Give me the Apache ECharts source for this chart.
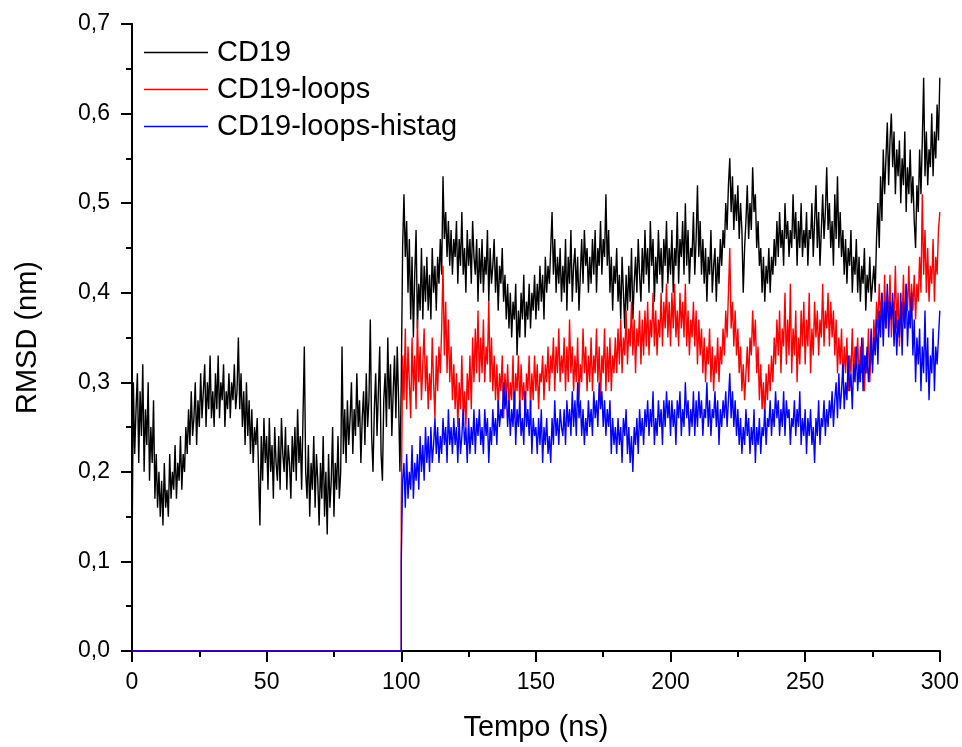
<!DOCTYPE html>
<html>
<head>
<meta charset="utf-8">
<script src="https://cdn.jsdelivr.net/npm/echarts@6/dist/echarts.min.js"></script>
<style>
  html, body { margin: 0; padding: 0; background: #fff; }
  #chart { width: 962px; height: 747px; }
</style>
</head>
<body>
<div id="chart"></div>
<script>
// tempo (ns): passo de 0,5 ns
var inicioCD19 = 0;
var inicioLoops = 100;
var passo = 0.5;

// trecho em zero das duas simulações com loops (0 a 100 ns)
var zeroTempo = [0, 100];
var zeroValor = [0, 0];

var nomes = ["CD19", "CD19-loops", "CD19-loops-histag"];

// RMSD (nm), CD19, t = 0..300 (uma linha = 10 ns)
var rmsdCD19 = [
  0.10, 0.30, 0.22, 0.27, 0.31, 0.21, 0.29, 0.24, 0.32, 0.20, 0.27, 0.23, 0.30, 0.19, 0.25, 0.21, 0.28, 0.17, 0.22, 0.16,
  0.20, 0.15, 0.19, 0.14, 0.21, 0.16, 0.18, 0.15, 0.22, 0.17, 0.20, 0.18, 0.23, 0.17, 0.21, 0.19, 0.24, 0.18, 0.22, 0.20,
  0.25, 0.22, 0.27, 0.23, 0.29, 0.24, 0.26, 0.30, 0.23, 0.28, 0.25, 0.31, 0.26, 0.29, 0.32, 0.25, 0.30, 0.27, 0.33, 0.26,
  0.29, 0.25, 0.31, 0.27, 0.33, 0.26, 0.30, 0.28, 0.32, 0.25, 0.29, 0.27, 0.31, 0.26, 0.30, 0.28, 0.32, 0.27, 0.29, 0.35,
  0.27, 0.31, 0.25, 0.29, 0.23, 0.30, 0.24, 0.28, 0.22, 0.27, 0.21, 0.25, 0.23, 0.26, 0.20, 0.14, 0.24, 0.19, 0.26, 0.21,
  0.24, 0.18, 0.26, 0.20, 0.23, 0.17, 0.25, 0.21, 0.19, 0.24, 0.18, 0.26, 0.22, 0.20, 0.25, 0.18, 0.23, 0.21, 0.17, 0.24,
  0.20, 0.25, 0.19, 0.27, 0.21, 0.24, 0.18, 0.26, 0.34, 0.20, 0.17, 0.23, 0.15, 0.21, 0.18, 0.24, 0.16, 0.22, 0.19, 0.14,
  0.21, 0.17, 0.24, 0.15, 0.20, 0.13, 0.22, 0.16, 0.19, 0.25, 0.15, 0.21, 0.18, 0.24, 0.17, 0.20, 0.34, 0.22, 0.27, 0.21,
  0.28, 0.23, 0.26, 0.30, 0.22, 0.27, 0.24, 0.31, 0.25, 0.28, 0.21, 0.26, 0.29, 0.23, 0.31, 0.25, 0.28, 0.37, 0.24, 0.20,
  0.27, 0.31, 0.24, 0.29, 0.34, 0.22, 0.19, 0.28, 0.31, 0.25, 0.35, 0.27, 0.32, 0.24, 0.29, 0.33, 0.26, 0.34, 0.28, 0.20,
  0.30, 0.45, 0.51, 0.44, 0.48, 0.40, 0.46, 0.37, 0.44, 0.35, 0.42, 0.47, 0.36, 0.41, 0.38, 0.45, 0.37, 0.43, 0.39, 0.44,
  0.38, 0.42, 0.37, 0.45, 0.40, 0.43, 0.38, 0.44, 0.41, 0.46, 0.42, 0.53, 0.46, 0.49, 0.44, 0.48, 0.43, 0.47, 0.42, 0.46,
  0.44, 0.48, 0.41, 0.46, 0.43, 0.49, 0.42, 0.45, 0.40, 0.47, 0.43, 0.46, 0.41, 0.48, 0.44, 0.42, 0.46, 0.39, 0.45, 0.41,
  0.46, 0.40, 0.44, 0.42, 0.47, 0.39, 0.45, 0.41, 0.43, 0.46, 0.40, 0.44, 0.38, 0.43, 0.41, 0.45, 0.39, 0.42, 0.37, 0.41,
  0.36, 0.40, 0.35, 0.39, 0.37, 0.41, 0.33, 0.38, 0.35, 0.40, 0.37, 0.42, 0.35, 0.39, 0.37, 0.41, 0.36, 0.40, 0.38, 0.42,
  0.37, 0.41, 0.38, 0.43, 0.39, 0.42, 0.37, 0.44, 0.40, 0.43, 0.41, 0.45, 0.49, 0.42, 0.46, 0.40, 0.44, 0.41, 0.45, 0.39,
  0.43, 0.40, 0.46, 0.38, 0.44, 0.41, 0.47, 0.39, 0.43, 0.45, 0.40, 0.44, 0.38, 0.42, 0.46, 0.41, 0.47, 0.43, 0.45, 0.40,
  0.44, 0.41, 0.46, 0.42, 0.47, 0.40, 0.45, 0.43, 0.48, 0.42, 0.46, 0.44, 0.51, 0.43, 0.47, 0.40, 0.44, 0.38, 0.43, 0.41,
  0.45, 0.39, 0.42, 0.37, 0.44, 0.40, 0.36, 0.42, 0.38, 0.43, 0.39, 0.45, 0.37, 0.41, 0.44, 0.40, 0.46, 0.42, 0.39, 0.45,
  0.41, 0.47, 0.42, 0.45, 0.40, 0.48, 0.43, 0.46, 0.39, 0.44, 0.41, 0.47, 0.42, 0.45, 0.40, 0.46, 0.43, 0.48, 0.41, 0.45,
  0.42, 0.47, 0.40, 0.45, 0.43, 0.49, 0.41, 0.46, 0.44, 0.48, 0.42, 0.50, 0.43, 0.47, 0.41, 0.45, 0.44, 0.49, 0.42, 0.46,
  0.52, 0.44, 0.48, 0.42, 0.46, 0.41, 0.45, 0.39, 0.44, 0.42, 0.47, 0.40, 0.43, 0.45, 0.39, 0.44, 0.41, 0.46, 0.43, 0.47,
  0.45, 0.50, 0.47, 0.52, 0.55, 0.49, 0.53, 0.47, 0.51, 0.48, 0.52, 0.46, 0.50, 0.47, 0.40, 0.45, 0.48, 0.52, 0.46, 0.50,
  0.47, 0.54, 0.49, 0.51, 0.45, 0.48, 0.43, 0.45, 0.40, 0.44, 0.39, 0.43, 0.41, 0.45, 0.40, 0.44, 0.42, 0.46, 0.43, 0.48,
  0.44, 0.49, 0.45, 0.47, 0.43, 0.50, 0.46, 0.48, 0.44, 0.47, 0.45, 0.51, 0.46, 0.49, 0.43, 0.48, 0.45, 0.50, 0.44, 0.47,
  0.45, 0.49, 0.43, 0.47, 0.46, 0.50, 0.44, 0.48, 0.52, 0.45, 0.49, 0.43, 0.47, 0.51, 0.46, 0.49, 0.54, 0.47, 0.50, 0.45,
  0.48, 0.43, 0.51, 0.46, 0.53, 0.45, 0.49, 0.44, 0.47, 0.42, 0.46, 0.41, 0.45, 0.43, 0.47, 0.40, 0.44, 0.42, 0.46, 0.40,
  0.44, 0.39, 0.43, 0.41, 0.45, 0.38, 0.42, 0.40, 0.44, 0.39, 0.41, 0.43, 0.40, 0.46, 0.50, 0.45, 0.53, 0.48, 0.56, 0.51,
  0.55, 0.59, 0.52, 0.57, 0.60, 0.54, 0.58, 0.51, 0.56, 0.53, 0.57, 0.50, 0.55, 0.52, 0.58, 0.49, 0.54, 0.51, 0.56, 0.50,
  0.53, 0.48, 0.45, 0.52, 0.49, 0.56, 0.51, 0.57, 0.64, 0.53, 0.58, 0.52, 0.56, 0.54, 0.60, 0.53, 0.58, 0.55, 0.61, 0.57,
  0.64
];

// RMSD (nm), CD19-loops, t = 100..300
var rmsdLoops = [
  0.16, 0.33, 0.28, 0.36, 0.27, 0.34, 0.30, 0.26, 0.35, 0.29, 0.33, 0.27, 0.37, 0.30, 0.34, 0.28, 0.32, 0.36, 0.29, 0.33,
  0.27, 0.31, 0.28, 0.35, 0.30, 0.26, 0.33, 0.29, 0.34, 0.31, 0.36, 0.43, 0.33, 0.39, 0.31, 0.37, 0.30, 0.34, 0.28, 0.32,
  0.27, 0.31, 0.25, 0.30, 0.27, 0.33, 0.26, 0.29, 0.25, 0.31, 0.28, 0.33, 0.27, 0.35, 0.30, 0.36, 0.31, 0.38, 0.30, 0.35,
  0.31, 0.37, 0.30, 0.34, 0.32, 0.39, 0.30, 0.35, 0.29, 0.33, 0.28, 0.32, 0.27, 0.31, 0.29, 0.33, 0.26, 0.31, 0.28, 0.32,
  0.27, 0.30, 0.28, 0.33, 0.26, 0.31, 0.29, 0.33, 0.27, 0.32, 0.28, 0.30, 0.26, 0.31, 0.29, 0.33, 0.27, 0.31, 0.28, 0.33,
  0.29, 0.32, 0.27, 0.31, 0.30, 0.33, 0.28, 0.32, 0.30, 0.34, 0.29, 0.33, 0.31, 0.35, 0.29, 0.34, 0.31, 0.36, 0.30, 0.33,
  0.31, 0.35, 0.29, 0.34, 0.30, 0.37, 0.31, 0.34, 0.29, 0.33, 0.30, 0.35, 0.28, 0.32, 0.30, 0.36, 0.31, 0.34, 0.29, 0.33,
  0.30, 0.35, 0.29, 0.33, 0.31, 0.36, 0.30, 0.34, 0.28, 0.33, 0.31, 0.36, 0.29, 0.34, 0.30, 0.35, 0.29, 0.33, 0.31, 0.35,
  0.31, 0.36, 0.32, 0.37, 0.31, 0.35, 0.33, 0.38, 0.32, 0.36, 0.34, 0.39, 0.33, 0.37, 0.31, 0.36, 0.34, 0.38, 0.32, 0.37,
  0.33, 0.38, 0.34, 0.39, 0.33, 0.37, 0.35, 0.40, 0.34, 0.38, 0.33, 0.37, 0.35, 0.40, 0.34, 0.39, 0.36, 0.41, 0.35, 0.39,
  0.34, 0.40, 0.36, 0.41, 0.35, 0.38, 0.34, 0.40, 0.36, 0.39, 0.35, 0.41, 0.34, 0.38, 0.33, 0.37, 0.35, 0.39, 0.34, 0.38,
  0.32, 0.37, 0.33, 0.36, 0.31, 0.35, 0.30, 0.34, 0.32, 0.36, 0.30, 0.34, 0.29, 0.33, 0.31, 0.35, 0.30, 0.34, 0.32, 0.36,
  0.33, 0.38, 0.35, 0.40, 0.45, 0.36, 0.39, 0.34, 0.38, 0.33, 0.36, 0.31, 0.34, 0.29, 0.32, 0.28, 0.31, 0.34, 0.30, 0.35,
  0.33, 0.38, 0.34, 0.37, 0.31, 0.34, 0.28, 0.32, 0.27, 0.30, 0.26, 0.31, 0.28, 0.32, 0.29, 0.33, 0.30, 0.35, 0.32, 0.37,
  0.33, 0.38, 0.31, 0.36, 0.34, 0.40, 0.32, 0.37, 0.33, 0.41, 0.31, 0.36, 0.33, 0.38, 0.30, 0.35, 0.32, 0.38, 0.34, 0.39,
  0.32, 0.37, 0.34, 0.40, 0.31, 0.36, 0.33, 0.39, 0.35, 0.38, 0.33, 0.37, 0.35, 0.41, 0.34, 0.38, 0.36, 0.40, 0.34, 0.39,
  0.35, 0.38, 0.33, 0.37, 0.31, 0.35, 0.32, 0.36, 0.30, 0.34, 0.31, 0.35, 0.29, 0.33, 0.31, 0.36, 0.30, 0.34, 0.32, 0.35,
  0.30, 0.34, 0.31, 0.35, 0.29, 0.33, 0.31, 0.36, 0.30, 0.34, 0.32, 0.37, 0.34, 0.39, 0.36, 0.41, 0.37, 0.40, 0.35, 0.42,
  0.36, 0.40, 0.37, 0.42, 0.35, 0.39, 0.37, 0.43, 0.36, 0.40, 0.34, 0.39, 0.37, 0.42, 0.36, 0.41, 0.38, 0.43, 0.37, 0.41,
  0.38, 0.42, 0.37, 0.41, 0.39, 0.44, 0.40, 0.51, 0.42, 0.47, 0.40, 0.45, 0.39, 0.43, 0.41, 0.46, 0.39, 0.44, 0.42, 0.47,
  0.49
];

// RMSD (nm), CD19-loops-histag, t = 100..300
var rmsdHistag = [
  0.10, 0.19, 0.21, 0.16, 0.22, 0.17, 0.20, 0.18, 0.23, 0.17, 0.21, 0.19, 0.22, 0.18, 0.24, 0.20, 0.23, 0.19, 0.25, 0.21,
  0.24, 0.20, 0.25, 0.21, 0.23, 0.26, 0.22, 0.25, 0.21, 0.24, 0.22, 0.26, 0.23, 0.25, 0.21, 0.27, 0.23, 0.25, 0.22, 0.26,
  0.23, 0.25, 0.21, 0.26, 0.22, 0.24, 0.27, 0.23, 0.25, 0.21, 0.26, 0.22, 0.25, 0.23, 0.27, 0.22, 0.26, 0.24, 0.27, 0.23,
  0.25, 0.22, 0.27, 0.24, 0.26, 0.21, 0.25, 0.23, 0.27, 0.24, 0.26, 0.23, 0.28, 0.25, 0.27, 0.26, 0.30, 0.27, 0.29, 0.25,
  0.28, 0.24, 0.27, 0.25, 0.29, 0.23, 0.27, 0.25, 0.28, 0.24, 0.26, 0.23, 0.29, 0.25, 0.27, 0.24, 0.28, 0.22, 0.26, 0.24,
  0.25, 0.22, 0.26, 0.23, 0.27, 0.21, 0.25, 0.23, 0.26, 0.22, 0.24, 0.21, 0.26, 0.23, 0.28, 0.24, 0.26, 0.23, 0.27, 0.25,
  0.24, 0.27, 0.23, 0.28, 0.25, 0.27, 0.24, 0.29, 0.25, 0.28, 0.24, 0.30, 0.26, 0.28, 0.24, 0.27, 0.23, 0.26, 0.24, 0.28,
  0.25, 0.27, 0.24, 0.29, 0.26, 0.28, 0.25, 0.30, 0.27, 0.29, 0.25, 0.28, 0.24, 0.27, 0.25, 0.28, 0.22, 0.26, 0.23, 0.25,
  0.22, 0.26, 0.23, 0.25, 0.21, 0.26, 0.24, 0.27, 0.22, 0.25, 0.21, 0.24, 0.20, 0.25, 0.23, 0.26, 0.22, 0.27, 0.24, 0.26,
  0.23, 0.27, 0.25, 0.28, 0.24, 0.27, 0.25, 0.29, 0.23, 0.26, 0.24, 0.28, 0.25, 0.27, 0.23, 0.28, 0.25, 0.29, 0.26, 0.28,
  0.24, 0.28, 0.25, 0.27, 0.23, 0.28, 0.26, 0.29, 0.24, 0.27, 0.25, 0.30, 0.26, 0.28, 0.24, 0.27, 0.25, 0.29, 0.24, 0.28,
  0.25, 0.29, 0.26, 0.28, 0.24, 0.27, 0.26, 0.30, 0.25, 0.28, 0.24, 0.27, 0.26, 0.29, 0.25, 0.28, 0.23, 0.27, 0.25, 0.28,
  0.26, 0.29, 0.25, 0.28, 0.31, 0.26, 0.29, 0.25, 0.28, 0.24, 0.27, 0.23, 0.26, 0.22, 0.25, 0.23, 0.27, 0.24, 0.26, 0.22,
  0.25, 0.23, 0.27, 0.21, 0.25, 0.23, 0.26, 0.22, 0.25, 0.24, 0.27, 0.23, 0.26, 0.25, 0.28, 0.24, 0.27, 0.25, 0.29, 0.26,
  0.28, 0.24, 0.27, 0.25, 0.29, 0.24, 0.28, 0.26, 0.27, 0.23, 0.26, 0.25, 0.28, 0.24, 0.27, 0.25, 0.29, 0.23, 0.26, 0.24,
  0.27, 0.22, 0.26, 0.24, 0.27, 0.23, 0.25, 0.21, 0.26, 0.24, 0.28, 0.23, 0.26, 0.25, 0.28, 0.24, 0.27, 0.25, 0.28, 0.26,
  0.29, 0.25, 0.28, 0.30, 0.26, 0.31, 0.27, 0.29, 0.32, 0.27, 0.30, 0.28, 0.33, 0.29, 0.31, 0.27, 0.32, 0.30, 0.34, 0.29,
  0.32, 0.30, 0.35, 0.29, 0.33, 0.31, 0.34, 0.30, 0.32, 0.36, 0.31, 0.35, 0.33, 0.37, 0.32, 0.38, 0.35, 0.40, 0.34, 0.39,
  0.36, 0.41, 0.35, 0.39, 0.37, 0.40, 0.34, 0.38, 0.33, 0.37, 0.35, 0.40, 0.33, 0.39, 0.36, 0.41, 0.34, 0.38, 0.36, 0.40,
  0.33, 0.37, 0.30, 0.35, 0.32, 0.36, 0.29, 0.34, 0.31, 0.38, 0.30, 0.35, 0.28, 0.33, 0.31, 0.36, 0.29, 0.34, 0.32, 0.35,
  0.38
];

var cores = ["#000000", "#ff0000", "#0000ff"];

function montarPontos(inicio, valores) {
  return valores.map(function (v, i) {
    return [inicio + i * passo, v];
  });
}

function comZero(valores) {
  var pontos = zeroTempo.map(function (t, i) {
    return [t, zeroValor[i]];
  });
  return pontos.concat(montarPontos(inicioLoops, valores));
}

function virgula(valor) {
  return valor.toFixed(1).replace(".", ",");
}

var fonte = "Liberation Sans";

var dom = document.getElementById("chart");
var myChart = echarts.init(dom, null, { renderer: "canvas" });

var option = {
  animation: false,
  backgroundColor: "#ffffff",
  grid: { left: 132, right: 22, top: 24, bottom: 95 },
  legend: {
    data: nomes,
    orient: "vertical",
    left: 139,
    top: 33,
    icon: "rect",
    itemWidth: 64,
    itemHeight: 1.5,
    itemGap: 8,
    textStyle: { fontFamily: fonte, fontSize: 29, color: "#000", padding: [0, 0, 0, 4] },
  },
  xAxis: [
    {
      type: "value",
      min: 0,
      max: 300,
      interval: 50,
      name: "Tempo (ns)",
      nameLocation: "middle",
      nameGap: 62,
      nameTextStyle: { fontFamily: fonte, fontSize: 29, color: "#000" },
      axisLine: { lineStyle: { color: "#000", width: 2 } },
      axisTick: { length: 11, lineStyle: { color: "#000", width: 2 } },
      minorTick: { show: true, splitNumber: 2, length: 6, lineStyle: { color: "#000", width: 2 } },
      axisLabel: { fontFamily: fonte, fontSize: 23, color: "#000", margin: 20 },
      splitLine: { show: false },
    },
    {
      type: "value",
      position: "top",
      min: 0,
      max: 300,
      interval: 25,
      axisLine: { lineStyle: { color: "#000", width: 2 } },
      axisTick: { inside: true, length: 3, lineStyle: { color: "#000", width: 1 } },
      axisLabel: { show: false },
      splitLine: { show: false },
    },
  ],
  yAxis: [
    {
      type: "value",
      min: 0,
      max: 0.7,
      interval: 0.1,
      name: "RMSD (nm)",
      nameLocation: "middle",
      nameGap: 90,
      nameTextStyle: { fontFamily: fonte, fontSize: 29, color: "#000" },
      axisLine: { show: true, lineStyle: { color: "#000", width: 2 } },
      axisTick: { show: true, length: 11, lineStyle: { color: "#000", width: 2 } },
      minorTick: { show: true, splitNumber: 2, length: 6, lineStyle: { color: "#000", width: 2 } },
      axisLabel: { fontFamily: fonte, fontSize: 23, color: "#000", margin: 22, formatter: virgula },
      splitLine: { show: false },
    },
    {
      type: "value",
      position: "right",
      min: 0,
      max: 0.7,
      interval: 0.1,
      axisLine: { show: true, lineStyle: { color: "#000", width: 2 } },
      axisTick: { show: false },
      axisLabel: { show: false },
      splitLine: { show: false },
    },
  ],
  series: [
    {
      name: nomes[0],
      type: "line",
      symbol: "none",
      data: montarPontos(inicioCD19, rmsdCD19),
      lineStyle: { color: cores[0], width: 1.4 },
      itemStyle: { color: cores[0] },
    },
    {
      name: nomes[1],
      type: "line",
      symbol: "none",
      data: comZero(rmsdLoops),
      lineStyle: { color: cores[1], width: 1.4 },
      itemStyle: { color: cores[1] },
    },
    {
      name: nomes[2],
      type: "line",
      symbol: "none",
      data: comZero(rmsdHistag),
      lineStyle: { color: cores[2], width: 1.4 },
      itemStyle: { color: cores[2] },
    },
  ],
};

myChart.setOption(option);
window.addEventListener("resize", myChart.resize);
</script>
</body>
</html>
